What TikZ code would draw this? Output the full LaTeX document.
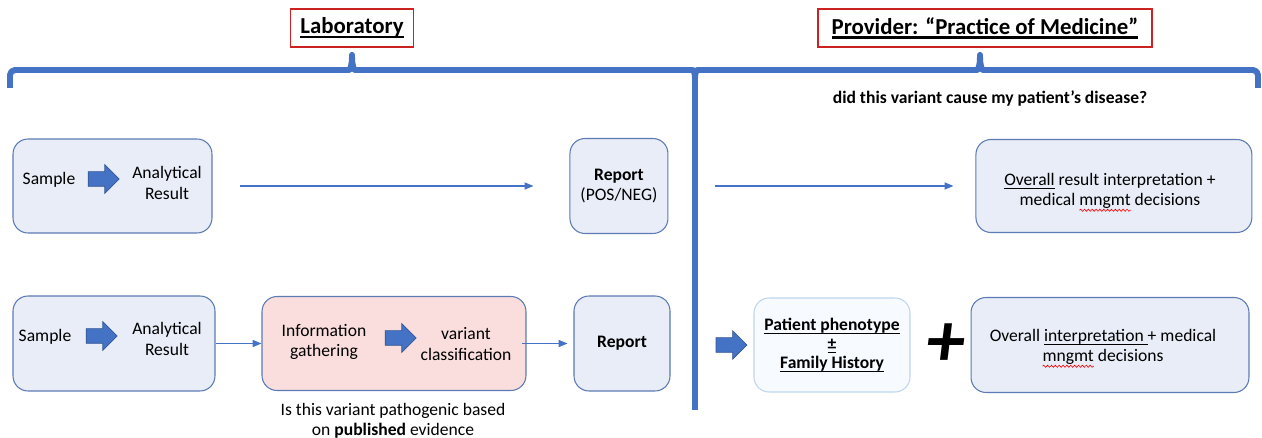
\documentclass[tikz,border=0pt]{standalone}
\usepackage{fontspec}
\setmainfont{Carlito}
\usetikzlibrary{arrows.meta, shapes.arrows, positioning, decorations.pathmorphing}
\definecolor{officeblue}{RGB}{68,114,196}
\definecolor{boxedge}{RGB}{92,122,180}
\definecolor{boxfill}{RGB}{232,237,247}
\definecolor{pinkfill}{RGB}{249,222,221}
\definecolor{phenoedge}{RGB}{190,214,238}
\definecolor{phenofill}{RGB}{247,250,254}
\definecolor{titlered}{RGB}{204,34,34}
\newcommand{\bodyfont}{\fontsize{10}{11.5}\selectfont}
\newsavebox{\ulbox}
\newcommand{\uln}[1]{\sbox{\ulbox}{#1}\rlap{\rule[-1.9pt]{\wd\ulbox}{0.55pt}}\usebox{\ulbox}}
\newcommand{\titleline}[1]{\sbox{\ulbox}{#1}\rlap{\rule[-2.4pt]{\wd\ulbox}{1.2pt}}\usebox{\ulbox}}
\newcommand{\redsquig}[1]{\sbox{\ulbox}{#1}\rlap{\tikz[overlay, baseline=0pt, x=1pt, y=1pt,
  sharp corners]
  \draw[red, line width=0.35pt, decorate,
        decoration={snake, amplitude=0.6pt, segment length=2.2pt}]
  (0,-2.6) -- (\wd\ulbox,-2.6);}\usebox{\ulbox}}

\begin{document}
\begin{tikzpicture}[x=0.02cm, y=-0.02cm,
        box/.style={draw=boxedge, fill=boxfill, rounded corners=0.3cm,
                    line width=0.6pt, align=center, font=\bodyfont},
        lbl/.style={align=center, font=\bodyfont, inner sep=1pt},
        title/.style={draw=titlered, line width=0.8pt, minimum height=0.76cm,
                      font=\fontsize{13}{15}\selectfont\bfseries},
        blk/.style={single arrow, draw=officeblue!75!black, fill=officeblue,
                    line width=0.4pt, minimum height=0.62cm, inner xsep=0pt,
                    inner ysep=0.14cm, single arrow head extend=0.14cm},
        arr/.style={-{Triangle[length=5pt, width=4pt]}, line width=0.6pt, officeblue},
        brace/.style={draw=officeblue, line width=3.4pt, line join=round}
      ]
        \useasboundingbox (0,0) rectangle (1262,438);

        % headings and braces
        \node[title, minimum width=2.46cm] (lab) at (352,28) {\titleline{Laboratory}};
        \node[title, minimum width=6.68cm] (prov) at (985,28)
          {\titleline{Provider: “Practice of Medicine”}};
        \draw[brace, rounded corners=0.1cm] (10,88) -- (10,70) -- (344,70)
          .. controls (350,70) and (352,66) .. (352,52)
          .. controls (352,66) and (354,70) .. (360,70) -- (688,70)
          .. controls (693,70) and (695,72) .. (695,78);
        \draw[brace, rounded corners=0.1cm] (695,78)
          .. controls (695,72) and (697,70) .. (702,70) -- (972,70)
          .. controls (978,70) and (980,66) .. (980,52)
          .. controls (980,66) and (982,70) .. (988,70) -- (1258,70) -- (1258,88);
        \draw[brace] (695,72) -- (695,410);
        \node[font=\bodyfont\bfseries] (quest) at (990,98)
          {did this variant cause my patient’s disease?};

        % first row
        \node[box, minimum width=3.98cm, minimum height=1.88cm] (s1box) at (112.5,186) {};
        \node[lbl] (sample1) at (49,180) {Sample};
        \node[blk] (go1) at (100,179) {};
        \node[lbl] (result1) at (167,183) {Analytical\\Result};
        \node[box, minimum width=1.96cm, minimum height=1.9cm, right=7.14cm of s1box]
          (report1) {\textbf{Report}\\(POS/NEG)};
        \node[box, minimum width=5.52cm, minimum height=1.86cm, right=6.14cm of report1]
          (overall1) {};
        \node[lbl] (verdict1) at (1110,191)
          {\uln{Overall} result interpretation +\\medical \redsquig{mngmt} decisions};
        \draw[arr, shorten <=0.54cm, shorten >=0.72cm] (s1box) -- (report1);
        \draw[arr, shorten <=0.94cm, shorten >=0.44cm] (report1) -- (overall1);

        % second row
        \node[box, minimum width=4.04cm, minimum height=1.9cm] (s2box) at (114,343.5) {};
        \node[lbl] (sample2) at (45,337) {Sample};
        \node[blk] (go2) at (98,336) {};
        \node[lbl] (result2) at (167,339) {Analytical\\Result};
        \node[box, fill=pinkfill, minimum width=5.28cm, minimum height=1.88cm,
              right=0.92cm of s2box] (info) {};
        \node[lbl] (gather) at (324,342) {Information\\gathering};
        \node[blk] (go3) at (397,338) {};
        \node[lbl] (classify) at (466,344) {variant\\classification};
        \node[box, minimum width=1.92cm, minimum height=1.9cm, right=0.94cm of info]
          (report2) {\textbf{Report}};
        \node[lbl] (ask) at (393,421)
          {Is this variant pathogenic based\\on \textbf{\uln{published}} evidence};
        \draw[arr] (s2box) -- (info);
        \draw[arr, shorten <=-0.1cm, shorten >=0.12cm] (info) -- (report2);

        \node[box, draw=phenoedge, fill=phenofill, minimum width=3.12cm,
              minimum height=1.88cm, font=\bodyfont\bfseries] (pheno) at (832,345)
          {\uln{Patient phenotype}\\[-0.5pt]\uln{±}\\[-0.5pt]\uln{Family History}};
        \node[blk, left=0.12cm of pheno] (go4) {};
        \node[font=\fontsize{44}{44}\selectfont\bfseries\itshape] (plus) at (946,345) {+};
        \node[box, minimum width=5.56cm, minimum height=1.9cm, right=1.2cm of pheno]
          (overall2) {};
        \node[lbl] (verdict2) at (1103,347)
          {Overall \uln{interpretation\ }+ medical\\\redsquig{mngmt} decisions};
      \end{tikzpicture}
\end{document}
